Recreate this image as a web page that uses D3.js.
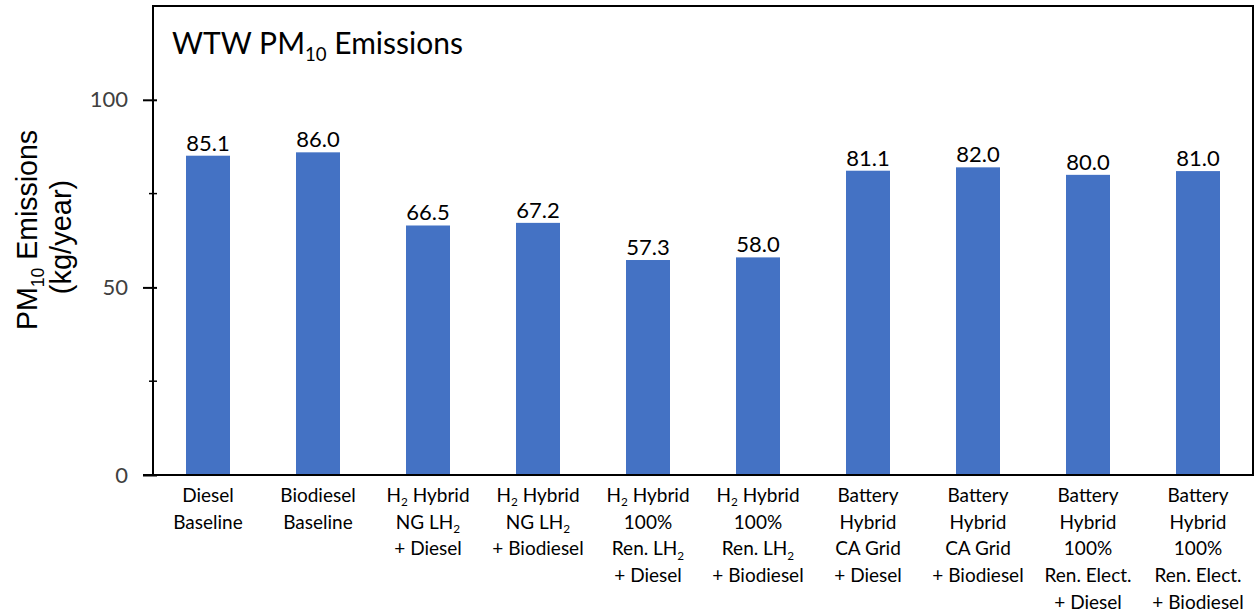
<!doctype html>
<html>
<head>
<meta charset="utf-8">
<style>
  body { margin: 0; background: #fff; }
  .bar { fill: #4472C4; }
  text { font-family: Lato, "Open Sans", sans-serif; }
  text.arial { font-family: "Liberation Sans", Arial, sans-serif; }
</style>
<script src="https://d3js.org/d3.v7.min.js"></script>
</head>
<body>
<svg width="1257" height="612"></svg>
<script>
// data: {n} marks a subscript
var categories = [
  ["Diesel", "Baseline"],
  ["Biodiesel", "Baseline"],
  ["H{2} Hybrid", "NG LH{2}", "+ Diesel"],
  ["H{2} Hybrid", "NG LH{2}", "+ Biodiesel"],
  ["H{2} Hybrid", "100%", "Ren. LH{2}", "+ Diesel"],
  ["H{2} Hybrid", "100%", "Ren. LH{2}", "+ Biodiesel"],
  ["Battery", "Hybrid", "CA Grid", "+ Diesel"],
  ["Battery", "Hybrid", "CA Grid", "+ Biodiesel"],
  ["Battery", "Hybrid", "100%", "Ren. Elect.", "+ Diesel"],
  ["Battery", "Hybrid", "100%", "Ren. Elect.", "+ Biodiesel"]
];
var values = [85.1, 86.0, 66.5, 67.2, 57.3, 58.0, 81.1, 82.0, 80.0, 81.0];
var majorTicks = [0, 50, 100];
var minorTicks = [25, 75];

var svg = d3.select("svg"),
    plotLeft = 153, plotRight = 1253, plotTop = 6, plotBottom = 475;

var xScale = d3.scaleBand().domain(d3.range(categories.length))
    .range([plotLeft, plotRight]).paddingInner(0.6).paddingOuter(0.3);
var yScale = d3.scaleLinear().domain([0, 125]).range([plotBottom, plotTop]);

// writes "H{2}" style text with subscripts into a text node
function richText(sel, str, size) {
  var parts = str.split(/(\{[^}]*\})/);
  var shifted = false;
  parts.forEach(function(p) {
    if (!p) return;
    if (p[0] == "{") {
      sel.append("tspan").attr("font-size", size * 0.62).attr("dy", size * 0.22).text(p.slice(1, -1));
      shifted = true;
    } else {
      var ts = sel.append("tspan").text(p);
      if (shifted) { ts.attr("dy", -size * 0.22); shifted = false; }
    }
  });
}

// frame
svg.append("rect").attr("x", plotLeft).attr("y", plotTop)
   .attr("width", plotRight - plotLeft).attr("height", plotBottom - plotTop)
   .attr("fill", "none").attr("stroke", "#000").attr("stroke-width", 2);

// bars
svg.selectAll(".bar").data(values).enter().append("rect")
   .attr("class", "bar")
   .attr("x", function(d, i) { return xScale(i); })
   .attr("y", function(d) { return yScale(d); })
   .attr("width", xScale.bandwidth())
   .attr("height", function(d) { return plotBottom - yScale(d); });

// value labels
svg.selectAll(".val").data(values).enter().append("text")
   .attr("class", "val")
   .attr("x", function(d, i) { return xScale(i) + xScale.bandwidth() / 2; })
   .attr("y", function(d) { return yScale(d) - 5; })
   .attr("text-anchor", "middle").attr("font-size", 22).attr("fill", "#000")
   .text(function(d) { return d.toFixed(1); });

// y axis
var yAxis = svg.append("g").attr("transform", "translate(" + plotLeft + ",0)")
   .call(d3.axisLeft(yScale).tickValues(majorTicks).tickSize(10).tickPadding(6));
yAxis.select(".domain").remove();
yAxis.selectAll(".tick line").attr("stroke", "#000").attr("stroke-width", 2).attr("x2", -10).attr("x1", 4);
yAxis.selectAll(".tick text").style("font-family", "Lato, sans-serif").attr("font-size", 22)
   .attr("fill", "#404040").attr("x", -25);
svg.selectAll(".minor").data(minorTicks).enter().append("line")
   .attr("x1", plotLeft - 4).attr("x2", plotLeft + 4)
   .attr("y1", function(d) { return yScale(d); }).attr("y2", function(d) { return yScale(d); })
   .attr("stroke", "#000").attr("stroke-width", 1.5);

// x axis line
svg.append("line").attr("x1", plotLeft - 10).attr("x2", plotRight)
   .attr("y1", plotBottom).attr("y2", plotBottom).attr("stroke", "#000").attr("stroke-width", 2);

// category labels
categories.forEach(function(lines, i) {
  var cx = xScale(i) + xScale.bandwidth() / 2;
  lines.forEach(function(line, j) {
    var t = svg.append("text").attr("x", cx).attr("y", 502 + j * 26.7)
       .attr("text-anchor", "middle").attr("font-size", 19).attr("fill", "#000");
    richText(t, line, 19);
  });
});

// title
var title = svg.append("text").attr("x", 172).attr("y", 54).attr("font-size", 30).attr("fill", "#000");
richText(title, "WTW PM{10} Emissions", 30);

// y axis title
var yt = svg.append("g").attr("transform", "translate(0,233) rotate(-90)");
var l1 = yt.append("text").attr("class", "arial").attr("x", 3).attr("y", 37).attr("text-anchor", "middle")
   .attr("font-size", 30).attr("textLength", 200).attr("lengthAdjust", "spacingAndGlyphs");
richText(l1, "PM{10} Emissions", 30);
yt.append("text").attr("class", "arial").attr("x", -4).attr("y", 71).attr("text-anchor", "middle")
   .attr("font-size", 29).text("(kg/year)");
</script>
</body>
</html>
